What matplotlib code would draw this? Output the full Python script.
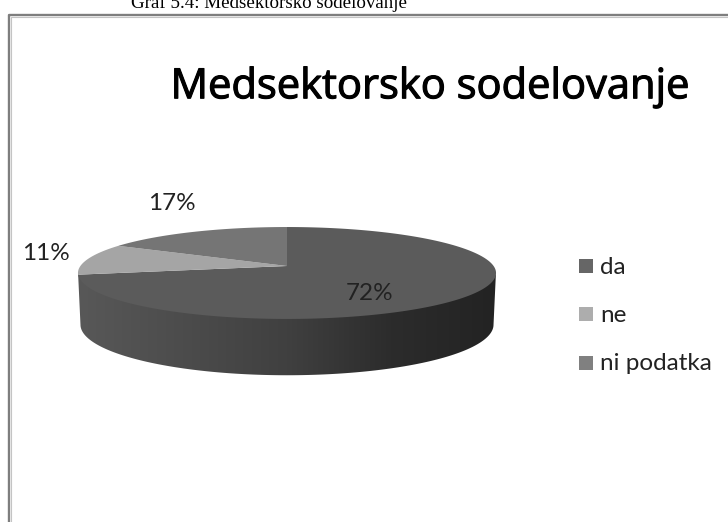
import numpy as np
import matplotlib
matplotlib.use("Agg")
import matplotlib.pyplot as plt
import matplotlib.patheffects as pe
from matplotlib.colors import LinearSegmentedColormap
from matplotlib.patches import Polygon, Rectangle

labels = ["da", "ne", "ni podatka"]
shares = [72, 11, 17]
top_colors = ["#5b5b5b", "#a5a5a5", "#757575"]
legend_colors = ["#666666", "#adadad", "#808080"]
caption = "Graf 5.4: Medsektorsko sodelovanje"
title = "Medsektorsko sodelovanje"

W, H = 728, 522
CX, CY = 287, 266
BX, AY, K = 206.6, 44.9, 0.152


def project(theta, x_scale=1.0, y_scale=1.0, drop=0.0):
    # theta runs clockwise from 12 o'clock, the back of the disc is foreshortened
    u, v = np.sin(theta), np.cos(theta)
    w = 1 + K * v
    return CX + x_scale * BX * u / w, CY + drop - y_scale * AY * v / w


fig = plt.figure(figsize=(W / 100, H / 100), dpi=100)
ax = fig.add_axes([0, 0, 1, 1])
ax.set_xlim(0, W)
ax.set_ylim(H, 0)
ax.axis("off")

# chart frame, open on the right and at the bottom of the page
ax.plot([11, 11, W], [H, 17, 17], color="#c4c4c4", lw=0.8)
ax.plot([9, 9, W], [H, 15, 15], color="#7e7e7e", lw=1.7)

# front wall of the pie, its upper edge tucked under the top face
front = np.linspace(np.pi / 2 + 0.153, 3 * np.pi / 2 - 0.153, 200)
tx, ty = project(front, drop=-2)
bx, by = project(front[::-1], 0.988, 1.1, 51)
wall = Polygon(np.column_stack([np.r_[tx, bx], np.r_[ty, by]]), closed=True,
               fc="none", ec="none")
ax.add_patch(wall)
wall_cmap = LinearSegmentedColormap.from_list(
    "wall", ["#585858", "#4c4c4c", "#404040", "#2c2c2c", "#232323"])
im = ax.imshow(np.linspace(0, 1, 256)[None, :], cmap=wall_cmap, aspect="auto",
               extent=(78, 496, 390, 260), zorder=2)
im.set_clip_path(wall)
ax.set_xlim(0, W)
ax.set_ylim(H, 0)

# top face, slices laid out clockwise from 12 o'clock
fractions = np.cumsum([0] + shares) / sum(shares)
for i, color in enumerate(top_colors):
    t = np.linspace(fractions[i], fractions[i + 1], 200) * 2 * np.pi
    x, y = project(t)
    ax.fill(np.r_[CX, x], np.r_[CY, y], color=color, lw=0, zorder=3)

label_pos = [(370, 293), (46, 254), (172, 203)]
for share, (x, y) in zip(shares, label_pos):
    ax.text(x, y, f"{share}%", fontsize=17.5, family="Lato", color="#222222",
            ha="center", va="center", zorder=4)

# legend
for name, color, y in zip(labels, legend_colors, [266, 314, 363]):
    ax.add_patch(Rectangle((579, y - 7), 14, 14, fc=color, ec="none"))
    ax.text(600, y + 1, name, fontsize=17.5, family="Lato", color="#222222",
            ha="left", va="center")

# heading, regular weight thickened a little with a stroke
ax.text(430, 87, title, fontsize=30, family="Open Sans", color="black",
        ha="center", va="center",
        path_effects=[pe.withStroke(linewidth=0.8, foreground="black")])
ax.text(269, 8, caption, fontsize=13.7, family="Liberation Serif",
        color="black", ha="center", va="baseline")

fig.savefig("out.png", dpi=100)
